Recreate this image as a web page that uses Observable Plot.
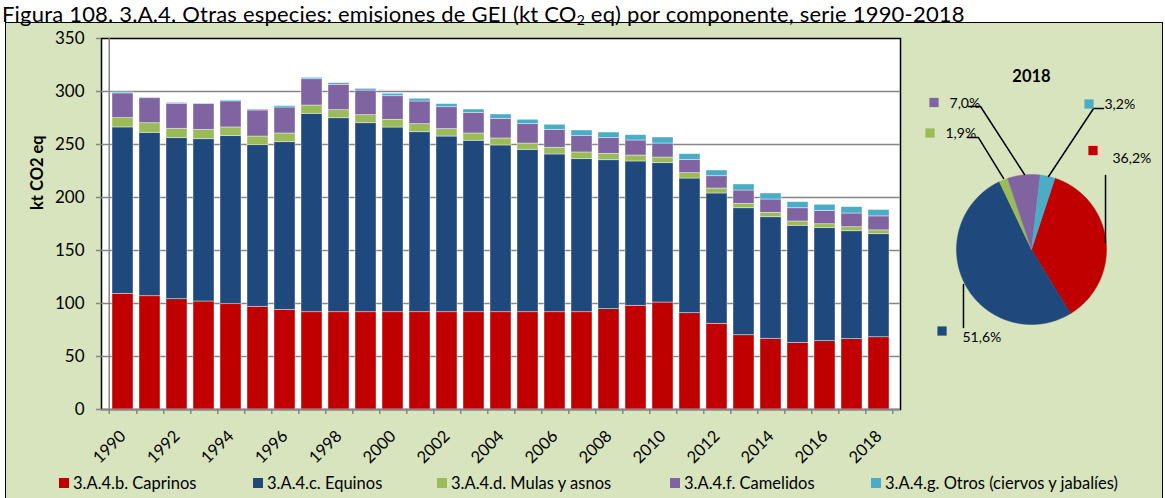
<!DOCTYPE html>
<html><head><meta charset="utf-8">
<script src="https://cdn.jsdelivr.net/npm/d3@7"></script>
<script src="https://cdn.jsdelivr.net/npm/@observablehq/plot@0.6"></script>
<style>
body{margin:0;background:#fff;}
#wrap{position:relative;width:1165px;height:498px;overflow:hidden;font-family:Lato,sans-serif;background:#fff;}
#title{position:absolute;left:2px;top:0px;white-space:nowrap;font-size:22px;line-height:27px;color:#000;letter-spacing:0.2px;}
#title sub{font-size:14px;vertical-align:-3px;line-height:0;}
#box{position:absolute;left:5px;top:22px;width:1156px;height:490px;background:#d7e4bd;border:1.5px solid #000;}
#bars{position:absolute;left:0;top:20px;}
#pie{position:absolute;left:905px;top:40px;}
.lg{position:absolute;top:473px;font-size:16.5px;line-height:20px;white-space:nowrap;color:#000;}
.lg i{position:absolute;left:-14px;top:5px;width:10px;height:10px;}
</style></head>
<body><div id="wrap">
<div id="box"></div>
<div id="title">Figura 108. 3.A.4. Otras especies: emisiones de GEI (kt CO<sub>2</sub> eq) por componente, serie 1990-2018</div>
<div id="bars"></div>
<div id="pie"></div>
<div id="legend"></div>
</div>
<script>
const years = [1990,1991,1992,1993,1994,1995,1996,1997,1998,1999,2000,2001,2002,2003,2004,2005,2006,2007,2008,2009,2010,2011,2012,2013,2014,2015,2016,2017,2018];
const caprinos  = [109.1,106.9,104.1,101.9,99.4,96.9,94.0,91.8,91.8,91.8,91.8,91.8,91.8,91.8,91.8,91.8,91.8,91.8,94.7,97.8,100.9,90.9,80.8,70.1,66.7,62.9,64.5,66.4,68.2];
const equinos   = [157.0,154.1,151.9,153.1,158.5,152.5,158.2,187.1,183.0,178.3,174.2,169.8,165.7,161.7,157.3,153.2,148.8,144.4,140.5,136.2,131.5,127.0,123.0,119.8,114.7,110.4,106.6,101.8,97.2];
const mulas     = [8.8,9.1,8.8,8.8,8.2,8.1,8.2,7.9,7.6,7.6,7.3,7.6,7.0,6.9,6.6,5.9,6.3,6.3,6.0,5.6,5.3,5.1,4.7,4.1,4.1,4.1,3.7,3.8,3.6];
const camelidos = [23.3,23.6,23.6,24.3,24.6,24.6,24.5,24.8,23.9,23.2,22.3,21.4,20.7,19.2,18.5,18.3,16.9,15.4,14.8,14.2,13.2,12.5,11.6,12.6,12.6,12.5,12.6,12.9,13.2];
const otros     = [0.9,0.6,0.9,0.6,0.9,0.9,1.3,1.3,1.6,1.6,2.2,2.5,2.9,3.4,4.1,4.1,4.8,5.3,5.3,5.0,5.7,5.4,5.4,5.7,5.7,5.7,5.7,6.0,6.0];
const components = ["3.A.4.b. Caprinos","3.A.4.c. Equinos","3.A.4.d. Mulas y asnos","3.A.4.f. Camelidos","3.A.4.g. Otros (ciervos y jabalíes)"];
const colors = ["#c00000","#1f497d","#9bbb59","#8064a2","#4bacc6"];
const yTicks = [0,50,100,150,200,250,300,350];
const xLabelYears = years.filter(y => y % 2 === 0);
const pieYear = 2018;
const yTitle = "kt CO2 eq";

const series = [caprinos, equinos, mulas, camelidos, otros];
const rows = [];
years.forEach((yr, i) => components.forEach((c, k) => rows.push({year: yr, comp: c, value: series[k][i]})));

const W = 911, H = 446, mL = 101, mR = 11, mT = 18, mB = 57;
const step = (W - mL - mR) / years.length;
const gray = "#868686";

const bars = Plot.plot({
  width: W, height: H, marginLeft: mL, marginRight: mR, marginTop: mT, marginBottom: mB,
  style: {fontFamily: "Lato, sans-serif", fontSize: "16px", background: "transparent", overflow: "visible", color: "#000"},
  x: {type: "band", domain: years, paddingInner: 0.24, paddingOuter: 0.12, axis: null},
  y: {domain: [0, 350], axis: null},
  color: {domain: components, range: colors},
  marks: [
    Plot.frame({fill: "white", stroke: "#000", strokeWidth: 1.5}),
    Plot.ruleY(yTicks.filter(t => t > 0 && t < 350), {stroke: gray, strokeWidth: 1.5}),
    Plot.barY(rows, {x: "year", y: "value", fill: "comp", stroke: "white", strokeOpacity: 0.5, strokeWidth: 0.8}),
    Plot.ruleY([0], {stroke: gray, strokeWidth: 1.5}),
    Plot.ruleX([years[0]], {dx: -step/2, stroke: gray, strokeWidth: 1.5, insetBottom: -5}),
    Plot.ruleX(years, {dx: step/2, stroke: gray, strokeWidth: 1.5, insetTop: H - mT - mB, insetBottom: -5}),
    Plot.axisY({ticks: yTicks, tickSize: 5, tickPadding: 12, stroke: gray, strokeWidth: 1.5, fontSize: 17, label: null, tickFormat: d => String(d)}),
    Plot.text(xLabelYears, {x: d => d, text: d => String(d), frameAnchor: "bottom", rotate: -45, textAnchor: "end", lineAnchor: "middle", dy: 24, dx: 0, fontSize: 16.5}),
    Plot.text([yTitle], {frameAnchor: "left", dx: -64, dy: -14, rotate: -90, fontWeight: "bold", fontSize: 16.5})
  ]
});
document.getElementById("bars").appendChild(bars);

// Pie for 2018
const pi = years.indexOf(pieYear);
const pieVals = series.map(s => s[pi]);
const total = d3.sum(pieVals);
const startDeg = 18.2;
let acc = startDeg;
const slices = pieVals.map((v, k) => {
  const a0 = acc; acc += v / total * 360;
  const pts = [{x: 0, y: 0}];
  for (let a = a0; a <= acc; a += 0.5) pts.push({x: Math.sin(a*Math.PI/180), y: -Math.cos(a*Math.PI/180)});
  pts.push({x: Math.sin(acc*Math.PI/180), y: -Math.cos(acc*Math.PI/180)});
  pts.push({x: 0, y: 0});
  return {k, pts, pct: (v / total * 100).toFixed(1).replace(".", ",") + "%"};
});
// label layout (in pie-radius units relative to centre)
const pieSquare = [[0.82,-1.32],[-1.193,1.087],[-1.353,-1.553],[-1.30,-1.96],[0.767,-1.94]];
const pieText   = [[1.08,-1.213],[-0.92,1.173],[-1.147,-1.547],[-1.093,-1.947],[0.973,-1.933]];
const pieLeader = [
  [[0.987,-0.987],[0.987,-0.093]],
  [[-0.907,0.467],[-0.907,1.04]],
  [[-0.853,-1.493],[-0.707,-1.493],[-0.373,-0.947]],
  [[-0.84,-1.907],[-0.68,-1.907],[-0.093,-1.0]],
  [[0.96,-1.88],[0.827,-1.88],[0.227,-0.973]]
];
const PW = 255, PH = 320, R = 75, cx = 126, cy = 209;
const pie = Plot.plot({
  width: PW, height: PH, margin: 0,
  style: {fontFamily: "Lato, sans-serif", background: "transparent", overflow: "visible", color: "#000"},
  x: {domain: [-cx/R, (PW-cx)/R], range: [0, PW], axis: null},
  y: {domain: [-cy/R, (PH-cy)/R], range: [0, PH], axis: null},
  marks: [
    ...slices.map(s => Plot.line(s.pts, {x: "x", y: "y", fill: colors[s.k], stroke: colors[s.k], strokeWidth: 0.5})),
    ...pieLeader.map(l => Plot.line(l, {x: d => d[0], y: d => d[1], stroke: "#000", strokeWidth: 1.5})),
    Plot.dot(slices, {x: d => pieSquare[d.k][0], y: d => pieSquare[d.k][1], symbol: "square", r: 5.2, fill: d => colors[d.k], stroke: "none"}),
    Plot.text(slices, {x: d => pieText[d.k][0], y: d => pieText[d.k][1], text: "pct", textAnchor: "start", fontSize: 14, fill: "#000"}),
    Plot.text([String(pieYear)], {x: 0, y: -2.307, fontWeight: "bold", fontSize: 16.5})
  ]
});
document.getElementById("pie").appendChild(pie);

// Legend
const lgX = [73, 267, 451, 684, 885];
const legend = document.getElementById("legend");
components.forEach((c, k) => {
  const d = document.createElement("div");
  d.className = "lg"; d.style.left = lgX[k] + "px";
  d.innerHTML = `<i style="background:${colors[k]}"></i>${c}`;
  legend.appendChild(d);
});
</script>
</body></html>
